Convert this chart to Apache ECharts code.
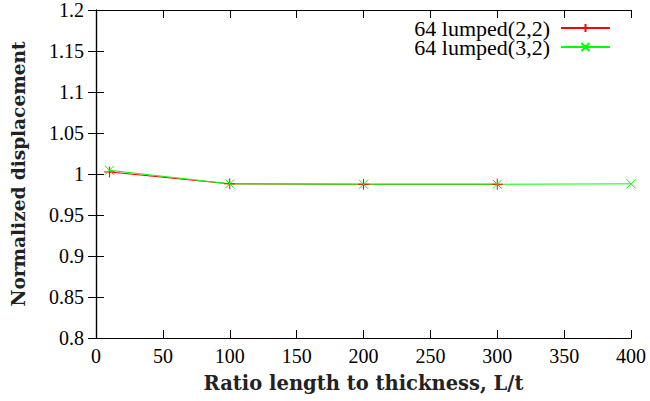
<!DOCTYPE html>
<html><head><meta charset="utf-8">
<script src="https://cdn.jsdelivr.net/npm/echarts@6/dist/echarts.min.js"></script>
<style>html,body{margin:0;padding:0;background:#fff}#c{width:650px;height:401px}</style>
</head><body><div id="c"></div>
<script>
const xValuesA = [10, 100, 200, 300];
const valuesA = [1.0025, 0.988, 0.9875, 0.9875];
const xValuesB = [10, 100, 200, 300, 400];
const valuesB = [1.0045, 0.988, 0.9875, 0.9875, 0.988];
const seriesNames = ['64 lumped(2,2)', '64 lumped(3,2)'];
const xTicks = [0, 50, 100, 150, 200, 250, 300, 350, 400];
const yTicks = [0.8, 0.85, 0.9, 0.95, 1, 1.05, 1.1, 1.15, 1.2];

const plus = 'path://M0,5L10,5M5,0L5,10';
const cross = 'path://M0,0L10,10M0,10L10,0';
const SERIF = 'Liberation Serif';
const BOLDSERIF = 'DejaVu Serif';
const tickFont = {fontFamily: SERIF, fontSize: 20, color: '#000'};
const chart = echarts.init(document.getElementById('c'), null, {renderer: 'svg'});
const axisLine = {show: true, lineStyle: {color: '#000', width: 1.2}};
chart.setOption({
  animation: false,
  textStyle: {fontFamily: SERIF},
  grid: {left: 96, right: 19, top: 10, bottom: 63, show: false},
  legend: {
    orient: 'vertical', right: 34, top: 12, align: 'right', itemGap: -3,
    itemWidth: 49, itemHeight: 10,
    textStyle: {fontFamily: SERIF, fontSize: 22, color: '#000', padding: [0, 6, 0, 0]},
    data: seriesNames
  },
  xAxis: [{
    type: 'value', min: xTicks[0], max: xTicks[xTicks.length - 1], interval: 50,
    axisLine: axisLine, splitLine: {show: false},
    axisTick: {inside: true, length: 8, lineStyle: {color: '#000'}},
    axisLabel: Object.assign({margin: 8}, tickFont),
    name: 'Ratio length to thickness, L/t', nameLocation: 'middle', nameGap: 35,
    nameTextStyle: {fontFamily: BOLDSERIF, fontWeight: 'bold', fontSize: 19.5, color: '#222'}
  }, {
    type: 'value', position: 'top', min: xTicks[0], max: xTicks[xTicks.length - 1], interval: 50,
    axisLine: axisLine, splitLine: {show: false},
    axisTick: {inside: true, length: 8, lineStyle: {color: '#000'}},
    axisLabel: {show: false}
  }],
  yAxis: [{
    type: 'value', min: yTicks[0], max: yTicks[yTicks.length - 1], interval: 0.05,
    axisLine: axisLine, splitLine: {show: false},
    axisTick: {inside: true, length: 8, lineStyle: {color: '#000'}},
    axisLabel: Object.assign({margin: 12, formatter: v => String(+v.toFixed(2))}, tickFont),
    name: 'Normalized displacement', nameLocation: 'middle', nameGap: 68, nameRotate: 90,
    nameTextStyle: {fontFamily: BOLDSERIF, fontWeight: 'bold', fontSize: 18.5, color: '#222'}
  }, {
    type: 'value', position: 'right', min: yTicks[0], max: yTicks[yTicks.length - 1], interval: 0.05,
    axisLine: axisLine, splitLine: {show: false},
    axisTick: {inside: true, length: 8, lineStyle: {color: '#000'}},
    axisLabel: {show: false}
  }],
  series: [{
    name: seriesNames[0], type: 'line',
    data: xValuesA.map((x, i) => [x, valuesA[i]]),
    symbol: plus, symbolSize: 11,
    lineStyle: {color: '#ff0000', width: 1},
    itemStyle: {color: 'none', borderColor: '#ff0000', borderWidth: 1},
    color: '#ff0000'
  }, {
    name: seriesNames[1], type: 'line',
    data: xValuesB.map((x, i) => [x, valuesB[i]]),
    symbol: cross, symbolSize: 9,
    lineStyle: {color: '#00ff00', width: 1},
    itemStyle: {color: 'none', borderColor: '#00ff00', borderWidth: 1},
    color: '#00ff00'
  }]
});
</script></body></html>
